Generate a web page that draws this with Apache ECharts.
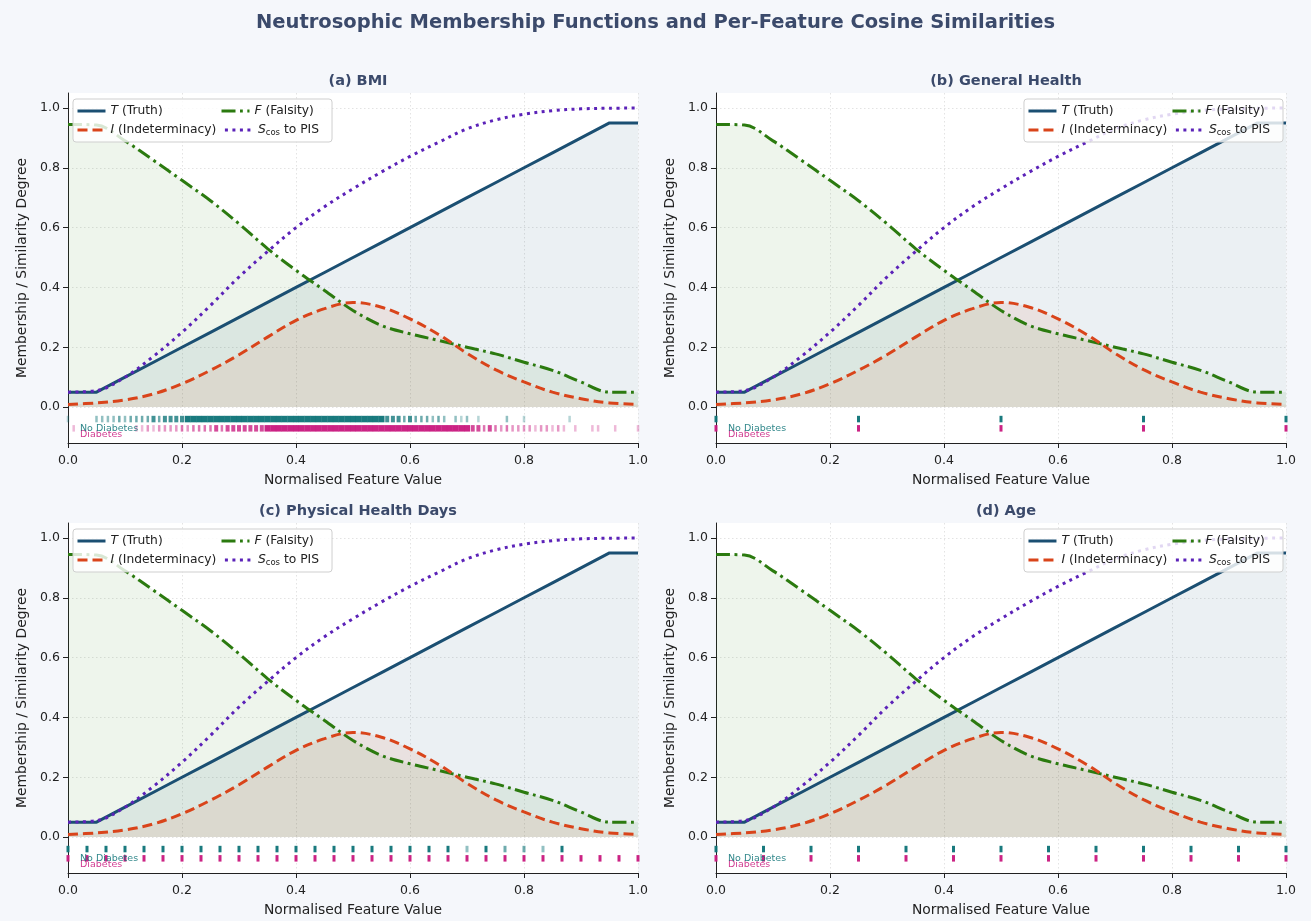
<!DOCTYPE html>
<html><head><meta charset="utf-8">
<script src="https://cdn.jsdelivr.net/npm/echarts@6/dist/echarts.min.js"></script>
<style>html,body{margin:0;padding:0;background:#f5f7fb;}#c{width:1311px;height:921px;}</style>
</head><body><div id="c"></div>
<script>
// ---------------- data ----------------
const xs      = [0,0.05,0.1,0.15,0.2,0.25,0.3,0.35,0.4,0.45,0.5,0.55,0.6,0.65,0.7,0.75,0.8,0.85,0.9,0.95,1];
const truthT  = [0.05,0.05,0.10,0.15,0.20,0.25,0.30,0.35,0.40,0.45,0.50,0.55,0.60,0.65,0.70,0.75,0.80,0.85,0.90,0.95,0.95];
const indetI  = [0.009,0.014,0.024,0.044,0.078,0.123,0.175,0.234,0.29,0.329,0.35,0.334,0.295,0.243,0.18,0.125,0.084,0.05,0.028,0.014,0.009];
const falsF   = [0.945,0.943,0.89,0.825,0.758,0.69,0.613,0.53,0.457,0.39,0.323,0.273,0.245,0.223,0.2,0.178,0.15,0.123,0.084,0.05,0.05];
const simS    = [0.05,0.055,0.10,0.17,0.25,0.34,0.435,0.52,0.60,0.67,0.73,0.786,0.838,0.885,0.93,0.96,0.979,0.991,0.997,0.999,1.0];

const yTicks = [0,0.2,0.4,0.6,0.8,1.0];

const panelTitles = ['(a) BMI','(b) General Health','(c) Physical Health Days','(d) Age'];
const classNames = ['No Diabetes','Diabetes'];

// rug data: [normalised value, relative frequency 1..5]
const bmiNoDiab = [[0.00,1],[0.05,2],[0.06,2],[0.07,2],[0.08,2],[0.09,3],[0.10,2],[0.11,3],[0.12,3],[0.13,3],[0.14,3],[0.15,4],[0.16,3],[0.17,4],[0.18,4],[0.19,4],[0.20,4],
 [0.21,5],[0.22,5],[0.23,5],[0.24,5],[0.25,5],[0.26,5],[0.27,5],[0.28,5],[0.29,5],[0.30,5],[0.31,5],[0.32,5],[0.33,5],[0.34,5],[0.35,5],[0.36,5],[0.37,5],[0.38,5],[0.39,5],[0.40,5],
 [0.41,5],[0.42,5],[0.43,5],[0.44,5],[0.45,5],[0.46,5],[0.47,5],[0.48,5],[0.49,5],[0.50,5],[0.51,5],[0.52,5],[0.53,5],[0.54,5],[0.55,5],[0.56,4],[0.57,4],[0.58,4],[0.59,3],[0.60,4],
 [0.61,3],[0.62,3],[0.63,3],[0.64,2],[0.65,3],[0.66,2],[0.68,2],[0.69,1],[0.70,2],[0.72,1],[0.77,2],[0.80,1],[0.88,1]];
const bmiDiab = [[0.01,1],[0.12,1],[0.13,1],[0.14,2],[0.15,1],[0.16,2],[0.17,2],[0.18,2],[0.19,2],[0.20,3],[0.21,2],[0.22,3],[0.23,3],[0.24,3],[0.25,3],[0.26,4],[0.27,3],[0.28,4],
 [0.29,4],[0.30,4],[0.31,4],[0.32,4],[0.33,4],[0.34,4],[0.35,5],[0.36,5],[0.37,5],[0.38,5],[0.39,5],[0.40,5],[0.41,5],[0.42,5],[0.43,5],[0.44,5],[0.45,5],[0.46,5],[0.47,5],[0.48,5],
 [0.49,5],[0.50,5],[0.51,5],[0.52,5],[0.53,5],[0.54,5],[0.55,5],[0.56,5],[0.57,5],[0.58,5],[0.59,5],[0.60,5],[0.61,5],[0.62,5],[0.63,5],[0.64,5],[0.65,5],[0.66,5],[0.67,5],[0.68,5],
 [0.69,5],[0.70,5],[0.71,4],[0.72,4],[0.73,3],[0.74,4],[0.75,3],[0.76,2],[0.77,3],[0.78,2],[0.79,2],[0.80,2],[0.81,2],[0.82,1],[0.83,2],[0.84,2],[0.85,1],[0.86,2],[0.87,1],
 [0.89,1],[0.92,1],[0.93,1],[0.96,1],[1.00,1]];
// General health: category code 1..5
const genHlthNoDiab = [[1,5],[2,5],[3,5],[4,5],[5,5]];
const genHlthDiab   = [[1,5],[2,5],[3,5],[4,5],[5,5]];
// Physical health days 0..30
const physNoDiab = [[0,5],[1,5],[2,5],[3,5],[4,5],[5,5],[6,5],[7,5],[8,5],[9,5],[10,5],[11,5],[12,5],[13,5],[14,5],[15,5],[16,5],[17,5],[18,5],[19,5],[20,5],[21,2],[22,5],[23,3],[24,3],[25,2],[26,5]];
const physDiab   = [[0,5],[1,5],[2,5],[3,5],[4,5],[5,5],[6,5],[7,5],[8,5],[9,5],[10,5],[11,5],[12,5],[13,5],[14,5],[15,5],[16,5],[17,5],[18,5],[19,5],[20,5],[21,5],[22,5],[23,5],[24,5],[25,5],[26,5],[27,5],[28,5],[29,5],[30,5]];
// Age category 1..13
const ageNoDiab = [[1,5],[2,5],[3,5],[4,5],[5,5],[6,5],[7,5],[8,5],[9,5],[10,5],[11,5],[12,5],[13,5]];
const ageDiab   = [[1,5],[2,5],[3,5],[4,5],[5,5],[6,5],[7,5],[8,5],[9,5],[10,5],[11,5],[12,5],[13,5]];

// ---------------- styling / layout ----------------
const FONT = 'DejaVu Sans';
const C = {T:'#1b4f72', I:'#d9441a', F:'#2b7a0f', S:'#5b22b8', no:'#0d7377', yes:'#c8177d', title:'#3b4a6b'};
const grids = [[68,93],[716,93],[68,523],[716,523]];
const GW = 570, GH = 350;
const YMIN = -0.12, YMAX = 1.05;
const rugY = [-0.04, -0.071];

const rugs = [
  {no: bmiNoDiab, yes: bmiDiab, f: v => v, dense: true},
  {no: genHlthNoDiab, yes: genHlthDiab, f: v => (v - 1) / 4},
  {no: physNoDiab, yes: physDiab, f: v => v / 30},
  {no: ageNoDiab, yes: ageDiab, f: v => (v - 1) / 12}
];
const legendRight = [false, true, false, true];

const pairs = arr => xs.map((x, k) => [x, arr[k]]);
const opac = w => [0, 0.3, 0.45, 0.6, 0.78, 0.95][w];
const LF = 12.3;

const option = {
  backgroundColor: '#f5f7fb',
  animation: false,
  textStyle: {fontFamily: FONT},
  title: [{text: 'Neutrosophic Membership Functions and Per-Feature Cosine Similarities', left: 'center', top: 8,
           textStyle: {fontFamily: FONT, fontSize: 19.5, fontWeight: 'bold', color: C.title}}]
    .concat(panelTitles.map((t, i) => ({text: t, left: grids[i][0] + GW / 2, textAlign: 'center', top: grids[i][1] - 24,
           textStyle: {fontFamily: FONT, fontSize: 14.5, fontWeight: 'bold', color: C.title}}))),
  grid: grids.map(g => ({left: g[0], top: g[1], width: GW, height: GH, show: true, backgroundColor: '#ffffff', borderWidth: 0, containLabel: false})),
  xAxis: grids.map((g, i) => ({
    type: 'value', gridIndex: i, min: 0, max: 1, interval: 0.2,
    name: 'Normalised Feature Value', nameLocation: 'middle', nameGap: 30,
    nameTextStyle: {fontFamily: FONT, fontSize: 13.9, color: '#222'},
    axisLine: {onZero: false, lineStyle: {color: '#222', width: 1}},
    axisTick: {show: true, inside: false, length: 5, lineStyle: {color: '#222'}},
    axisLabel: {fontFamily: FONT, fontSize: 12.5, color: '#222', margin: 11, formatter: v => v.toFixed(1)},
    splitLine: {show: true, lineStyle: {color: '#dcdcdc', type: [1.5, 2.5], width: 0.8}}
  })),
  yAxis: grids.map((g, i) => ({
    type: 'value', gridIndex: i, min: YMIN, max: YMAX,
    name: 'Membership / Similarity Degree', nameLocation: 'middle', nameGap: 39,
    nameTextStyle: {fontFamily: FONT, fontSize: 13.9, color: '#222'},
    axisLine: {show: true, lineStyle: {color: '#222', width: 1}},
    axisTick: {show: true, inside: false, length: 5, customValues: yTicks, lineStyle: {color: '#222'}},
    axisLabel: {fontFamily: FONT, fontSize: 12.5, color: '#222', margin: 8, customValues: yTicks, formatter: v => v.toFixed(1)},
    splitLine: {show: true, lineStyle: {color: '#dcdcdc', type: [1.5, 2.5], width: 0.8}}
  })),
  legend: grids.map((g, i) => {
    const L = {
      data: ['T', 'F', 'I', 'S'], orient: 'horizontal', top: g[1] + 6, width: 262, z: 20,
      itemWidth: 28, itemHeight: 8, itemGap: 7, padding: [6, 13, 5, 3],
      backgroundColor: 'rgba(255,255,255,0.82)', borderColor: '#cfcfcf', borderWidth: 1, borderRadius: 3,
      selectedMode: false,
      itemStyle: {opacity: 0, borderWidth: 0},
      lineStyle: {width: 3},
      formatter: n => ({T: '{it|T}{c1| (Truth)}', I: '{it|I}{c2| (Indeterminacy)}', F: '{it|F}{n| (Falsity)}', S: '{it|S}{sub|cos}{n| to PIS}'})[n],
      textStyle: {fontFamily: FONT, fontSize: LF, color: '#222', lineHeight: 9,
        rich: {
          it: {fontStyle: 'italic', fontFamily: FONT, fontSize: LF, color: '#222', lineHeight: 9},
          c1: {width: 95, fontFamily: FONT, fontSize: LF, color: '#222', lineHeight: 9},
          c2: {width: 99, fontFamily: FONT, fontSize: LF, color: '#222', lineHeight: 9},
          n: {fontFamily: FONT, fontSize: LF, color: '#222', lineHeight: 9},
          sub: {fontFamily: FONT, fontSize: 8.5, color: '#222', lineHeight: 9, padding: [5, 0, 0, 0]}
        }}
    };
    if (legendRight[i]) L.right = 1311 - (g[0] + GW) + 3; else L.left = g[0] + 5;
    return L;
  }),
  graphic: [],
  series: []
};

grids.forEach((g, i) => {
  const ax = {xAxisIndex: i, yAxisIndex: i};
  option.series.push(
    Object.assign({type: 'line', name: 'T', data: pairs(truthT), symbol: 'none', smooth: false, z: 3,
      lineStyle: {color: C.T, width: 3}, itemStyle: {color: C.T},
      areaStyle: {color: 'rgba(27,79,114,0.12)', origin: 'auto'}}, ax),
    Object.assign({type: 'line', name: 'F', data: pairs(falsF), symbol: 'none', smooth: 0.35, z: 3,
      lineStyle: {color: C.F, width: 3, type: [14, 4.5, 2.8, 4.5]}, itemStyle: {color: C.F},
      areaStyle: {color: 'rgba(43,122,15,0.11)', origin: 'auto'}}, ax),
    Object.assign({type: 'line', name: 'I', data: pairs(indetI), symbol: 'none', smooth: 0.35, z: 3,
      lineStyle: {color: C.I, width: 3, type: [10, 5]}, itemStyle: {color: C.I},
      areaStyle: {color: 'rgba(217,68,26,0.12)', origin: 'auto'}}, ax),
    Object.assign({type: 'line', name: 'S', data: pairs(simS), symbol: 'none', smooth: 0.35, z: 3,
      lineStyle: {color: C.S, width: 3, type: [3, 4.5]}, itemStyle: {color: C.S}}, ax)
  );
  const r = rugs[i];
  [[r.no, C.no, rugY[0]], [r.yes, C.yes, rugY[1]]].forEach(([arr, col, yv]) => {
    option.series.push(Object.assign({
      type: 'scatter', name: 'rug', silent: true, z: 2, symbol: 'rect',
      data: arr.map(([v, w]) => ({
        value: [r.f(v), yv],
        symbolSize: [r.dense ? (w >= 5 ? 6 : (w === 4 ? 4 : 2.5)) : 3, 6.5],
        itemStyle: {color: col, opacity: r.dense ? opac(w) : (w >= 5 ? 0.95 : opac(w))}
      })),
      emphasis: {disabled: true}
    }, ax));
  });
  // class labels
  const y0 = g[1] + (YMAX - (-0.071)) / (YMAX - YMIN) * GH;
  option.graphic.push(
    {type: 'text', x: g[0] + 12, y: y0, z: 100, silent: true,
     style: {text: classNames[0], fill: 'rgba(13,115,119,0.85)', font: '9.5px "DejaVu Sans"', textVerticalAlign: 'middle'}},
    {type: 'text', x: g[0] + 12, y: y0 + 6, z: 99, silent: true,
     style: {text: classNames[1], fill: 'rgba(200,23,125,0.85)', font: '9.5px "DejaVu Sans"', textVerticalAlign: 'middle'}}
  );
});

const chart = echarts.init(document.getElementById('c'), null, {renderer: 'canvas'});
chart.setOption(option);
</script>
</body></html>
